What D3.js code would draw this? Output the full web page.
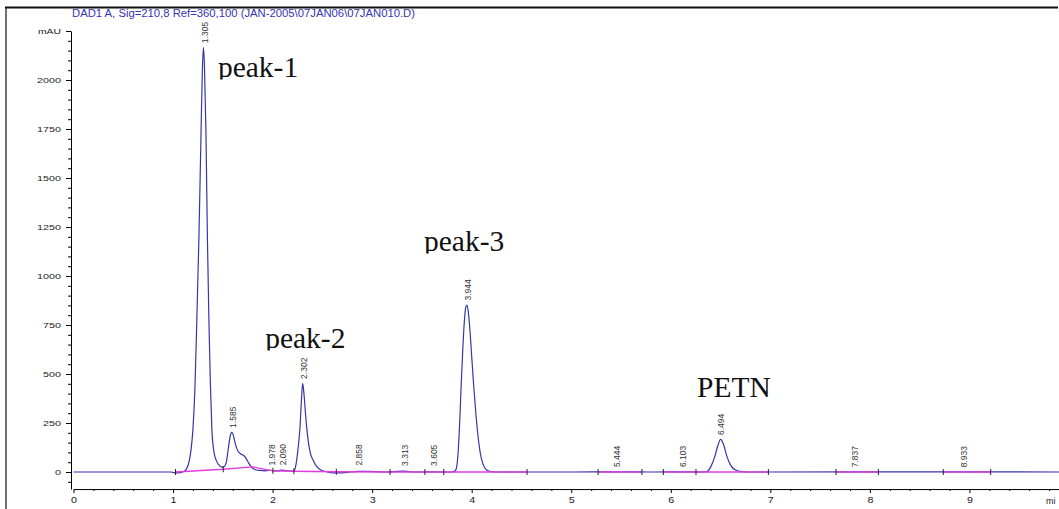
<!DOCTYPE html>
<html>
<head>
<meta charset="utf-8">
<script src="https://cdn.jsdelivr.net/npm/d3@7"></script>
<style>
  html, body { margin: 0; padding: 0; background: #fff; overflow: hidden; }
  svg { display: block; }
  text { font-family: "Liberation Sans", Arial, sans-serif; }
  text.note { font-family: "Liberation Serif", "Times New Roman", serif; }
</style>
</head>
<body>
<svg id="chart" width="1059" height="509"></svg>
<script>
// chromatogram trace: retention time (min) / absorbance (mAU)
const times = [
  0, 0.5, 0.98, 1.01, 1.04, 1.07, 1.10, 1.13, 1.16, 1.18, 1.20, 1.22, 1.24, 1.26, 1.28,
  1.295, 1.305, 1.315, 1.33, 1.345, 1.36, 1.375, 1.39, 1.41, 1.435, 1.46, 1.49,
  1.51, 1.535, 1.555, 1.575, 1.59, 1.605, 1.625, 1.65, 1.68, 1.71, 1.735, 1.76, 1.79,
  1.82, 1.87, 1.93, 1.978, 2.02, 2.06, 2.09, 2.13, 2.19,
  2.218, 2.242, 2.26, 2.275, 2.29, 2.302, 2.315, 2.33, 2.343, 2.36, 2.38, 2.406, 2.44, 2.49,
  2.55, 2.60, 2.70, 2.78, 2.858, 2.95, 3.05, 3.15, 3.25, 3.313, 3.37, 3.45, 3.605, 3.70,
  3.80, 3.835, 3.85, 3.865, 3.88, 3.895, 3.91, 3.925, 3.94, 3.952, 3.965, 3.98, 4.00,
  4.02, 4.04, 4.06, 4.085, 4.11, 4.14, 4.17, 4.22, 4.30, 5.00, 5.444, 5.80, 6.103,
  6.30, 6.36, 6.40, 6.444, 6.47, 6.50, 6.53, 6.562, 6.60, 6.65, 6.712, 6.78,
  7.837, 8.933, 9.9
];
const mAU = [
  0, 0, 0, -3, -5, -3, 1, 12, 50, 110, 220, 430, 800, 1200, 1700,
  2060, 2165, 2080, 1750, 1200, 780, 450, 220, 105, 58, 36, 25,
  26, 50, 120, 185, 202, 188, 145, 108, 92, 84, 68, 45, 24,
  13, 8, 6, 9, 6, 6, 10, 7, 4,
  8, 61, 140, 225, 370, 452, 400, 300, 225, 150, 95, 61, 30, 9,
  1, -4, -4, 0, 3, 3, 2, 0, 3, 4, 2, 0, 1, 0,
  0, 6, 30, 110, 260, 450, 620, 760, 840, 852, 820, 740, 590,
  440, 310, 200, 100, 45, 15, 5, 1, 0, 0, 1, 0, 1,
  0, 2, 25, 82, 130, 166, 140, 82, 35, 10, 2, 0,
  1, 1, 0
];

// integration baselines (magenta) as runs of [time, mAU]
const baselines = [
  [[1.025, 0], [1.504, 14], [1.80, 26], [2.003, 6], [2.214, 4], [2.64, 1], [3.18, 0], [3.53, 0], [3.72, 0], [4.556, 0]],
  [[5.27, 0], [5.71, 0]],
  [[5.925, 0], [6.253, 0], [6.98, 0]],
  [[7.66, 0], [8.085, 0]],
  [[8.737, 0], [9.213, 0]]
];
// integration event marks
const eventTimes = [1.025, 1.504, 2.003, 2.214, 2.64, 3.18, 3.53, 3.72, 4.556,
                    5.27, 5.71, 5.925, 6.253, 6.98, 7.66, 8.085, 8.737, 9.213];
const eventLevels = [0, 14, 6, 4, 1, 0, 0, 0, 0, 0, 0, 0, 0, 0, 0, 0, 0, 0];

// peak retention times and apex heights
const peakTimes = [1.305, 1.585, 1.978, 2.090, 2.302, 2.858, 3.313, 3.605, 3.944, 5.444, 6.103, 6.494, 7.837, 8.933];
const peakHeights = [2165, 202, 10, 11, 452, 10, 8, 8, 852, 2, 2, 166, 1, 1];
const peakLabels = ['1.305', '1.585', '1.978', '2.090', '2.302', '2.858', '3.313', '3.605', '3.944', '5.444', '6.103', '6.494', '7.837', '8.933'];

const yTicks = [0, 250, 500, 750, 1000, 1250, 1500, 1750, 2000];
const xTicks = [0, 1, 2, 3, 4, 5, 6, 7, 8, 9];

const noteTexts = ['peak-1', 'peak-2', 'peak-3', 'PETN'];

const title = 'DAD1 A, Sig=210,8 Ref=360,100 (JAN-2005\\07JAN06\\07JAN010.D)';

// ---- layout ----
const svg = d3.select('#chart');
const yTop = 2250, yMin = -87;

const x = d3.scaleLinear().domain([0, 9.9]).range([73.5, 73.5 + 99.55 * 9.9]);
const y = d3.scaleLinear().domain([yMin, yTop]).range([472 + 87 * 0.196, 472 - 2250 * 0.196]);

// annotation anchors in data units (left, baseline)
const noteAt = [[1.451, 2015], [1.925, 633], [3.521, 1128], [6.263, 383]];

// frame
svg.append('path')
  .attr('d', 'M5,7.5H1058')
  .attr('stroke', '#111').attr('stroke-width', 1.8).attr('fill', 'none');
svg.append('path')
  .attr('d', 'M6,7V509')
  .attr('stroke', '#111').attr('stroke-width', 1.2).attr('fill', 'none');

svg.append('text')
  .attr('x', 72).attr('y', 16.5)
  .attr('font-size', 10)
  .attr('textLength', 343).attr('lengthAdjust', 'spacingAndGlyphs')
  .attr('fill', '#3535b5')
  .text(title);

// y axis
const yAxis = svg.append('g')
  .attr('transform', `translate(${x(0) - 2.5},0)`)
  .call(d3.axisLeft(y)
    .tickValues([...yTicks, yTop])
    .tickFormat(d => d === yTop ? 'mAU' : d)
    .tickSize(5).tickPadding(5).tickSizeOuter(0));
yAxis.selectAll('text')
  .attr('font-size', 8).attr('fill', '#222')
  .attr('textLength', d => (d === yTop ? 23 : String(d).length * 6))
  .attr('lengthAdjust', 'spacingAndGlyphs');

const yMinor = d3.range(-1, 46).map(i => i * 50).filter(v => v % 250 !== 0 && v < yTop);
svg.append('g')
  .attr('transform', `translate(${x(0) - 2.5},0)`)
  .call(d3.axisLeft(y).tickValues(yMinor).tickFormat('').tickSize(3).tickSizeOuter(0))
  .call(g => g.select('.domain').remove());

// x axis
const xAxis = svg.append('g')
  .attr('transform', `translate(0,${y(yMin)})`)
  .call(d3.axisBottom(x)
    .tickValues(xTicks)
    .tickSize(4).tickPadding(4).tickSizeOuter(0));
xAxis.selectAll('text')
  .attr('font-size', 9).attr('fill', '#222')
  .attr('textLength', 6).attr('lengthAdjust', 'spacingAndGlyphs');

const xMinor = d3.range(1, 50).filter(i => i % 5 !== 0).map(i => i * 0.2);
svg.append('g')
  .attr('transform', `translate(0,${y(yMin)})`)
  .call(d3.axisBottom(x).tickValues(xMinor).tickFormat('').tickSize(2).tickSizeOuter(0))
  .call(g => g.select('.domain').remove());

// unit label, shown truncated as in the source
svg.append('text')
  .attr('x', 1046).attr('y', y(yMin) + 15)
  .attr('font-size', 9).attr('fill', '#222')
  .text('mi');

// signal trace
const trace = times.map((t, i) => [t, mAU[i]]);
const line = d3.line()
  .x(d => x(d[0]))
  .y(d => y(d[1]))
  .curve(d3.curveMonotoneX);

svg.append('path')
  .datum(trace)
  .attr('d', line)
  .attr('fill', 'none')
  .attr('stroke', '#3636aa')
  .attr('stroke-width', 1.2);

// integration baselines
svg.selectAll('.base')
  .data(baselines)
  .join('path')
  .attr('class', 'base')
  .attr('d', d3.line().x(d => x(d[0])).y(d => y(d[1])))
  .attr('fill', 'none')
  .attr('stroke', '#e03ce0')
  .attr('stroke-width', 1.4);

svg.selectAll('.evt')
  .data(eventTimes)
  .join('line')
  .attr('class', 'evt')
  .attr('x1', d => x(d)).attr('x2', d => x(d))
  .attr('y1', (d, i) => y(eventLevels[i]) - 3)
  .attr('y2', (d, i) => y(eventLevels[i]) + 3)
  .attr('stroke', '#222').attr('stroke-width', 1);

// retention time labels
svg.selectAll('.rt')
  .data(peakTimes)
  .join('text')
  .attr('class', 'rt')
  .attr('transform', (d, i) => `translate(${x(d) + 1.5},${y(peakHeights[i]) - 4.5}) rotate(-90)`)
  .attr('dy', '0.35em')
  .attr('font-size', 8.5)
  .attr('fill', '#333')
  .text((d, i) => peakLabels[i]);

// peak annotations (text boxes clip the descenders)
const defs = svg.append('defs');
noteTexts.forEach((txt, i) => {
  const nx = x(noteAt[i][0]), ny = y(noteAt[i][1]);
  defs.append('clipPath').attr('id', 'clip' + i)
    .append('rect')
    .attr('x', nx - 4).attr('y', ny - 34)
    .attr('width', 110).attr('height', 36.5);
  svg.append('text')
    .attr('class', 'note')
    .attr('x', nx).attr('y', ny)
    .attr('clip-path', `url(#clip${i})`)
    .attr('font-size', 29.5)
    .attr('fill', '#111')
    .text(txt);
});
</script>
</body>
</html>
